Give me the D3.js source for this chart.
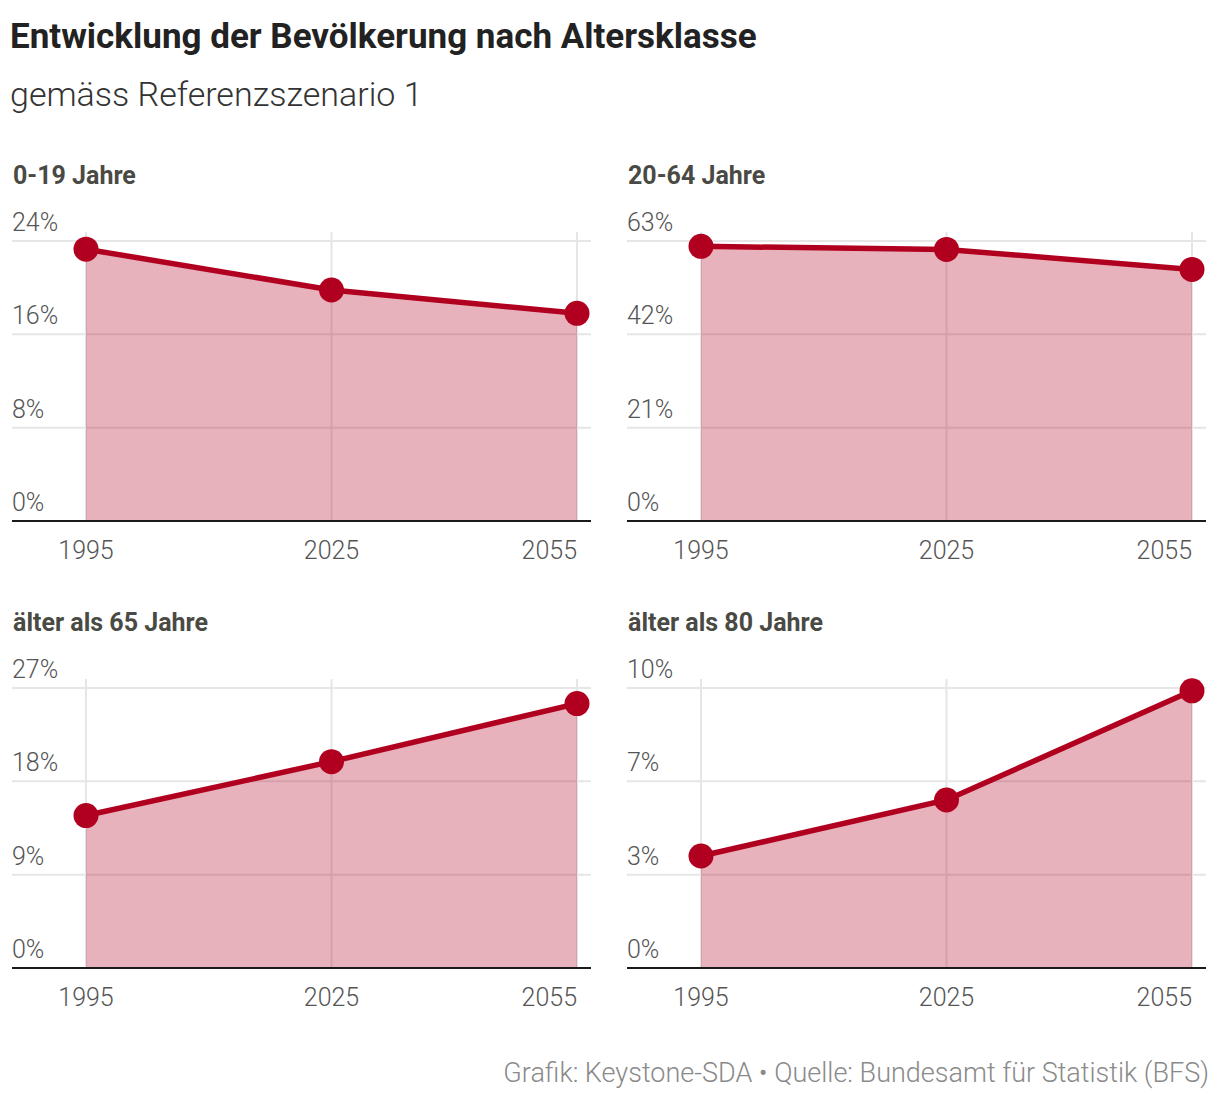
<!DOCTYPE html>
<html lang="de">
<head>
<meta charset="UTF-8">
<title>Entwicklung der Bevölkerung nach Altersklasse</title>
<script src="https://d3js.org/d3.v7.min.js"></script>
<style>
  body { margin: 0; background: #fff; }
  svg { display: block; font-family: Roboto, "Open Sans", sans-serif; }
</style>
</head>
<body>
<div id="chart"></div>
<script>
// Data
const years = [1995, 2025, 2055];
const groups = ["0-19 Jahre", "20-64 Jahre", "älter als 65 Jahre", "älter als 80 Jahre"];
const values0_19 = [23.3, 19.8, 17.8];
const values20_64 = [61.8, 61.1, 56.6];
const values65 = [14.7, 19.9, 25.5];
const values80 = [4.0, 6.0, 9.9];
const axisMax = [24, 63, 27, 10];
const series = [values0_19, values20_64, values65, values80];

const W = 1220, H = 1104;
const red = "#b1001f";

const svg = d3.select("#chart").append("svg")
    .attr("width", W)
    .attr("height", H);

// header
svg.append("text")
    .attr("x", 10).attr("y", 48)
    .style("font-size", "35px").style("font-weight", 700)
    .style("fill", "#222")
    .text("Entwicklung der Bevölkerung nach Altersklasse");

svg.append("text")
    .attr("x", 10).attr("y", 106)
    .style("font-size", "34px").style("font-weight", 300)
    .style("fill", "#333")
    .text("gemäss Referenzszenario 1");

// panel layout
const colLeft = [12, 627];
const rowTop = [241, 688];     // y of top gridline
const rowBase = [521, 968];    // y of the zero line
const panelW = 579;

groups.forEach((name, i) => {
    const left = colLeft[i % 2];
    const top = rowTop[Math.floor(i / 2)];
    const base = rowBase[Math.floor(i / 2)];
    const vals = series[i];
    const data = years.map((yr, k) => ({ year: yr, value: vals[k] }));

    const x = d3.scaleLinear().domain([1995, 2055]).range([left + 74, left + 565]);
    const y = d3.scaleLinear().domain([0, axisMax[i]]).range([base, top]);
    const ticks = [0, 1, 2, 3].map(k => axisMax[i] * k / 3);

    const g = svg.append("g").attr("class", "panel");

    // panel title
    g.append("text")
        .attr("x", left + 1).attr("y", top - 57)
        .style("font-size", "25px").style("font-weight", 700)
        .style("fill", "#4a4a44")
        .text(name);

    // horizontal grid
    g.selectAll(".hgrid").data(ticks.slice(1)).enter().append("line")
        .attr("x1", left).attr("x2", left + panelW)
        .attr("y1", d => y(d)).attr("y2", d => y(d))
        .style("stroke", "#e6e6e6").style("stroke-width", 2);

    // vertical grid
    g.selectAll(".vgrid").data(years).enter().append("line")
        .attr("x1", d => x(d)).attr("x2", d => x(d))
        .attr("y1", top - 9).attr("y2", base)
        .style("stroke", "#e6e6e6").style("stroke-width", 2);

    // y labels
    g.selectAll(".ylab").data(ticks).enter().append("text")
        .attr("x", left).attr("y", d => y(d) - 10)
        .style("font-size", "25px").style("font-weight", 300)
        .style("fill", "#555")
        .text(d => d3.format(".0f")(d) + "%");

    // area
    const area = d3.area().x(d => x(d.year)).y0(y(0)).y1(d => y(d.value));
    g.append("path").datum(data)
        .attr("d", area)
        .style("fill", red).style("fill-opacity", 0.3);

    // zero line
    g.append("line")
        .attr("x1", left).attr("x2", left + panelW)
        .attr("y1", y(0)).attr("y2", y(0))
        .style("stroke", "#1a1a1a").style("stroke-width", 2);

    // line
    const line = d3.line().x(d => x(d.year)).y(d => y(d.value));
    g.append("path").datum(data)
        .attr("d", line)
        .style("fill", "none").style("stroke", red)
        .style("stroke-width", 5.5);

    // dots
    g.selectAll(".dot").data(data).enter().append("circle")
        .attr("cx", d => x(d.year)).attr("cy", d => y(d.value))
        .attr("r", 12.5)
        .style("fill", red);

    // x labels, last one right-aligned to its point
    g.selectAll(".xlab").data(years).enter().append("text")
        .attr("x", d => x(d)).attr("y", base + 38)
        .attr("text-anchor", (d, k) => k === years.length - 1 ? "end" : "middle")
        .style("font-size", "25px").style("font-weight", 300)
        .style("fill", "#555")
        .text(d => d);
});

// source line
svg.append("text")
    .attr("x", 1209).attr("y", 1082)
    .attr("text-anchor", "end")
    .style("font-size", "27px").style("font-weight", 300)
    .style("fill", "#8a8a8a")
    .text("Grafik: Keystone-SDA • Quelle: Bundesamt für Statistik (BFS)");
</script>
</body>
</html>
